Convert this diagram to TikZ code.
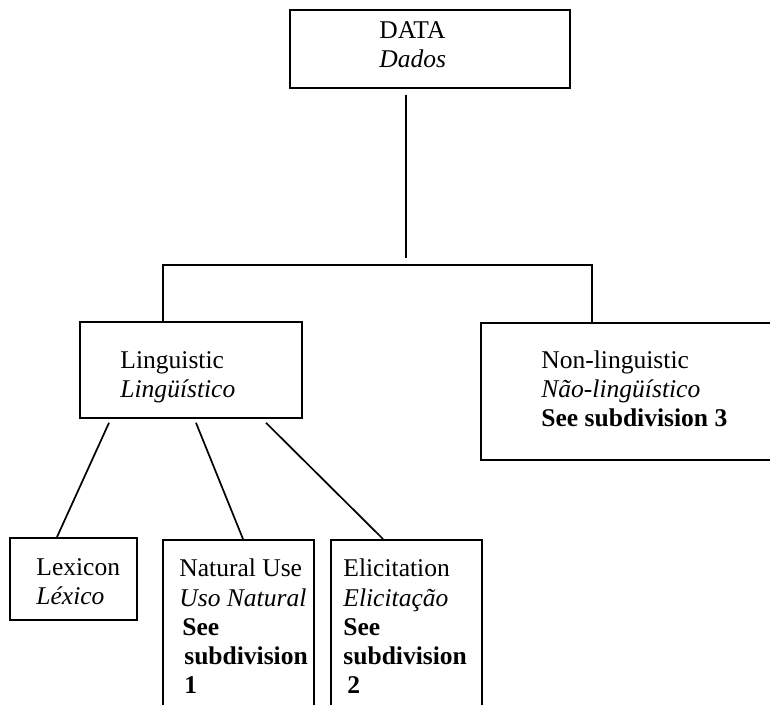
\documentclass[tikz,border=0pt]{standalone}
\usepackage{fontspec}
\setmainfont{Liberation Serif}
\usepackage{tikz}
\usetikzlibrary{positioning}
\newcommand{\unitpx}{0.47pt}
\tikzstyle{box} = [draw, line width=0.85pt, anchor=north west, inner sep=0pt, text centered]
\tikzstyle{boxtext} = [draw=none, fill=none, align=left, inner sep=0pt, anchor=base west, font=\fontsize{12}{13.75}\selectfont]
\tikzstyle{tedge} = [draw, line width=0.8pt]

\begin{document}
\begin{tikzpicture}[x=\unitpx, y=-\unitpx]
\useasboundingbox (0,0) rectangle (770,705);
\clip (0,0) rectangle (770,705);

% boxes =============================
\node[box, minimum width=280*\unitpx, minimum height=78*\unitpx] (data) at (289,9) {};
\node[box, minimum width=222*\unitpx, minimum height=96*\unitpx] (ling) at (79,321) {};
\node[box, minimum width=320*\unitpx, minimum height=137*\unitpx] (nonling) at (480,322) {};
\node[box, minimum width=127*\unitpx, minimum height=82*\unitpx] (lex) at (9,537) {};
\node[box, minimum width=151*\unitpx, minimum height=190*\unitpx] (natuse) at (162,539) {};
\node[box, minimum width=151*\unitpx, minimum height=190*\unitpx] (elicit) at (330,539) {};

% texts (anchored at the last line)
\node[boxtext] (datatxt) at (379,68) {DATA\\\textit{Dados}};
\node[boxtext] (lingtxt) at (120,398) {Linguistic\\\textit{Lingüístico}};
\node[boxtext] (nonlingtxt) at (541,427) {Non-linguistic\\\textit{Não-lingüístico}\\\textbf{See subdivision 3}};
\node[boxtext] (lextxt) at (36,605) {Lexicon\\\textit{Léxico}};
\node[boxtext] (natusetxt) at (179,694) {Natural Use\\\textit{Uso Natural}\\\hspace{1.4pt}\textbf{See}\\\hspace{2.3pt}\textbf{subdivision}\\\hspace{2.3pt}\textbf{1}};
\node[boxtext] (elicittxt) at (343,694) {Elicitation\\\textit{Elicitação}\\\textbf{See}\\\textbf{subdivision}\\\hspace{1.8pt}\textbf{2}};

% edges
\coordinate (lj) at (163,265);
\coordinate (rj) at (592,265);
\coordinate (split) at (406,265);
\path[tedge, shorten <=6*\unitpx, shorten >=7*\unitpx] (data.south -| split) -- (split);
\path[tedge] (ling.north -| lj) -- (lj) -- (rj) -- (nonling.north -| rj);
\path[tedge] ([shift={(30,4)}]ling.south west) -- ([shift={(48,0)}]lex.north west);
\path[tedge] ([shift={(117,4)}]ling.south west) -- ([shift={(81,0)}]natuse.north west);
\path[tedge] ([shift={(187,4)}]ling.south west) -- ([shift={(53,0)}]elicit.north west);

\end{tikzpicture}
\end{document}
